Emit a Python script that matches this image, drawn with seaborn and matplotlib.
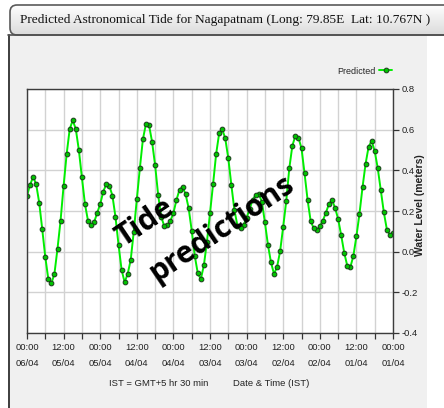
import numpy as np
import matplotlib
matplotlib.use("Agg")
import matplotlib.pyplot as plt
import matplotlib.colors as mcolors
from matplotlib.patches import Rectangle, FancyBboxPatch
from matplotlib.lines import Line2D
from matplotlib.transforms import IdentityTransform
import seaborn as sns

# Hourly predicted water level (m), 01/04 00:00 to 06/04 00:00 IST
hours = list(range(121))
water_level = [
    0.093, 0.082, 0.108, 0.193, 0.302, 0.410, 0.495, 0.544, 0.516, 0.431,
    0.316, 0.185, 0.075, -0.021, -0.077, -0.069, -0.005, 0.082, 0.161, 0.216,
    0.254, 0.234, 0.192, 0.152, 0.125, 0.106, 0.115, 0.151, 0.254, 0.385,
    0.508, 0.561, 0.570, 0.521, 0.410, 0.249, 0.123, 0.003, -0.074, -0.110,
    -0.053, 0.033, 0.144, 0.246, 0.284, 0.280, 0.255, 0.210, 0.167, 0.131,
    0.118, 0.128, 0.205, 0.328, 0.459, 0.557, 0.603, 0.582, 0.479, 0.331,
    0.189, 0.049, -0.066, -0.135, -0.107, -0.020, 0.104, 0.214, 0.283, 0.318,
    0.305, 0.254, 0.190, 0.150, 0.131, 0.126, 0.172, 0.279, 0.426, 0.541,
    0.623, 0.628, 0.553, 0.410, 0.257, 0.098, -0.041, -0.110, -0.150, -0.088,
    0.035, 0.172, 0.276, 0.324, 0.333, 0.295, 0.234, 0.190, 0.145, 0.131,
    0.152, 0.234, 0.365, 0.500, 0.603, 0.646, 0.603, 0.480, 0.324, 0.152,
    0.015, -0.108, -0.156, -0.136, -0.027, 0.110, 0.241, 0.332, 0.368, 0.328,
    0.275,
]

tick_hours = [0, 12, 24, 36, 48, 60, 72, 84, 96, 108, 120]
tick_times = ["00:00", "12:00", "00:00", "12:00", "00:00", "12:00",
              "00:00", "12:00", "00:00", "12:00", "00:00"]
tick_dates = ["01/04", "01/04", "02/04", "02/04", "03/04", "03/04",
              "04/04", "04/04", "05/04", "05/04", "06/04"]
minor_hours = [6, 18, 30, 42, 54, 66, 78, 90, 102, 114]
level_ticks = [-0.4, -0.2, 0.0, 0.2, 0.4, 0.6, 0.8]

title = "Predicted Astronomical Tide for Nagapatnam (Long: 79.85E  Lat: 10.767N )"

sns.set_theme(style="white")
plt.rcParams["font.family"] = ["Liberation Sans", "DejaVu Sans"]

W, H = 444, 408
fig = plt.figure(figsize=(W / 100, H / 100), dpi=100, facecolor="white")

# window panel and frame
fig.patches.append(Rectangle((8 / W, 0), (427 - 8) / W, (H - 35) / H,
                             transform=fig.transFigure, facecolor="#f0f0f0",
                             edgecolor="none", zorder=-5))
fig.lines.append(Line2D([8.5 / W, 8.5 / W], [0, (H - 35) / H],
                        transform=fig.transFigure, color="#303030", lw=1.3,
                        zorder=-4))

# title bar with a soft vertical gradient
bar = FancyBboxPatch((10, H - 35), 450, 30, boxstyle="round,pad=0,rounding_size=7",
                     transform=IdentityTransform(), facecolor="none",
                     edgecolor="#5a5a5a", lw=1.2, zorder=3)
fig.patches.append(bar)
tax = fig.add_axes([8 / W, (H - 36) / H, (W - 8) / W, 32 / H], zorder=1)
grad = np.linspace(0, 1, 64).reshape(-1, 1)
cmap = mcolors.LinearSegmentedColormap.from_list("bar", ["#ffffff", "#dadada"])
im = tax.imshow(grad, aspect="auto", cmap=cmap, extent=[0, 1, 0, 1])
im.set_clip_path(bar)
tax.axis("off")
fig.lines.append(Line2D([8 / W, 1], [(H - 35) / H] * 2, transform=fig.transFigure,
                        color="#505050", lw=1.2, zorder=4))
fig.text(225 / W, 1 - 20 / H, title, ha="center", va="center",
         family=["Liberation Serif", "DejaVu Serif"], fontsize=9.6, color="#111111",
         zorder=5)

# chart
ax = fig.add_axes([27 / W, 75 / H, 366 / W, 244 / H], zorder=2)
ax.set_facecolor("white")
sns.lineplot(x=hours, y=water_level, ax=ax, color="#00ee00", lw=1.4,
             marker="o", markersize=3.4, markerfacecolor="#00c400",
             markeredgecolor="#1a3a1a", markeredgewidth=0.7, label="Predicted")

ax.set_xlim(120, 0)
ax.set_ylim(-0.4, 0.8)
ax.set_xticks(tick_hours)
ax.set_xticklabels([f"{t}\n{d}" for t, d in zip(tick_times, tick_dates)],
                   linespacing=2.1)
ax.set_xticks(minor_hours, minor=True)
ax.set_yticks(level_ticks)
ax.set_yticklabels([f"{v:.1f}" for v in level_ticks])
ax.yaxis.tick_right()
ax.tick_params(axis="x", which="both", direction="out", length=4, width=0.9,
               color="#333333", labelsize=6.8, pad=3, labelcolor="#222222",
               bottom=True)
ax.tick_params(axis="y", which="both", direction="out", length=4, width=0.9,
               color="#333333", labelsize=6.8, pad=2, labelcolor="#222222",
               left=False, right=True)
ax.grid(which="both", color="#d2d2d2", lw=1)
for s in ax.spines.values():
    s.set_color("#3c3c3c")
    s.set_linewidth(1)
ax.set_xlabel("")

ax.yaxis.set_label_position("right")
lbl = ax.set_ylabel("Water Level (meters)", fontsize=7.5, fontweight="bold",
                    color="#222222", rotation=90)
ax.yaxis.set_label_coords(1.074, 0.5225)
lbl.set_va("center")
lbl.set_ha("center")

fig.text(271.5 / W, 1 - 383 / H, "Date & Time (IST)", ha="center", va="center",
         fontsize=6.8, color="#222222")
fig.text(158.5 / W, 1 - 383 / H, "IST = GMT+5 hr 30 min", ha="center", va="center",
         fontsize=6.8, color="#222222")

leg = ax.legend(loc="center right", bbox_to_anchor=(392 / W, 1 - 71 / H),
                bbox_transform=fig.transFigure, frameon=False, markerfirst=False,
                fontsize=6.5, handlelength=1.4, handletextpad=0.4,
                borderaxespad=0, borderpad=0)

# overlay caption
fig.text(145 / W, 1 - 223 / H, "Tide", rotation=34, rotation_mode="anchor",
         ha="center", va="center", fontsize=21.5, fontweight="bold",
         family=["Open Sans", "DejaVu Sans"], color="black", zorder=10)
fig.text(222 / W, 1 - 229 / H, "predictions", rotation=34, rotation_mode="anchor",
         ha="center", va="center", fontsize=21.5, fontweight="bold",
         family=["Open Sans", "DejaVu Sans"], color="black", zorder=10)

fig.savefig("out.png", dpi=100, facecolor="white")
